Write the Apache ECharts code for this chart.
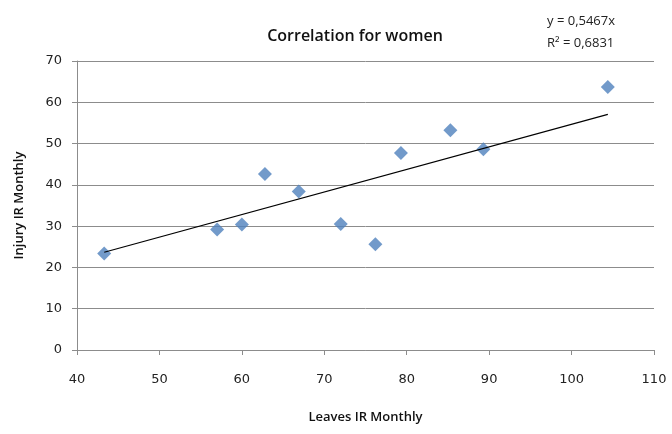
<!DOCTYPE html>
<html>
<head>
<meta charset="utf-8">
<script src="https://cdn.jsdelivr.net/npm/echarts@6/dist/echarts.min.js"></script>
<style>html,body{margin:0;padding:0;background:#fff}#c{width:672px;height:434px}</style>
</head>
<body>
<div id="c"></div>
<script>
var leavesIR = [43.3, 57.0, 60.0, 62.8, 66.9, 72.0, 76.2, 79.3, 85.3, 89.3, 104.4];
var injuryIR = [23.4, 29.2, 30.4, 42.6, 38.4, 30.5, 25.6, 47.7, 53.2, 48.6, 63.7];
var slope = 0.5467;
var trendX = [43.3, 104.4];
var xTicks = [40, 50, 60, 70, 80, 90, 100, 110];
var yTicks = [0, 10, 20, 30, 40, 50, 60, 70];

var points = leavesIR.map(function (x, i) { return [x, injuryIR[i]]; });
var trend = trendX.map(function (x) { return [x, slope * x]; });

var chart = echarts.init(document.getElementById('c'));
var axisGray = '#8c8c8c';
chart.setOption({
  animation: false,
  backgroundColor: '#fff',
  title: [
    { text: 'Correlation for women', left: 350, top: 23, textAlign: 'center',
      textStyle: { fontFamily: 'Open Sans', fontSize: 16, fontWeight: 600, color: '#111' } },
    { text: 'y = 0,5467x\nR² = 0,6831', left: 542, top: 5,
      textStyle: { fontFamily: 'Open Sans', fontSize: 13, fontWeight: 'normal', color: '#222', lineHeight: 22 } }
  ],
  grid: { left: 77, right: 18, top: 61, bottom: 84 },
  xAxis: {
    type: 'value', min: 40, max: 110, interval: 10,
    name: 'Leaves IR Monthly', nameLocation: 'middle', nameGap: 61,
    nameTextStyle: { fontFamily: 'Open Sans', fontSize: 13, fontWeight: 600, color: '#111' },
    axisLine: { show: true, lineStyle: { color: axisGray } },
    axisTick: { show: true, length: 5, inside: false, lineStyle: { color: axisGray } },
    axisLabel: { margin: 23, fontFamily: 'DejaVu Sans', fontSize: 13, color: '#222',
      formatter: function (v) { return xTicks.indexOf(v) >= 0 ? String(v) : ''; } },
    splitLine: { show: false }
  },
  yAxis: {
    type: 'value', min: 0, max: 70, interval: 10,
    name: 'Injury IR Monthly', nameLocation: 'middle', nameGap: 51, nameRotate: 90,
    nameTextStyle: { fontFamily: 'Open Sans', fontSize: 13, fontWeight: 600, color: '#111' },
    axisLine: { show: true, lineStyle: { color: axisGray } },
    axisTick: { show: true, length: 5, lineStyle: { color: axisGray } },
    axisLabel: { margin: 15, fontFamily: 'DejaVu Sans', fontSize: 13, color: '#222',
      formatter: function (v) { return yTicks.indexOf(v) >= 0 ? String(v) : ''; } },
    splitLine: { show: true, lineStyle: { color: '#8c8c8c', width: 1 } }
  },
  series: [
    { type: 'scatter', data: points, symbol: 'diamond', symbolSize: 14,
      itemStyle: { color: '#4F81BD' }, z: 3 },
    { type: 'line', data: trend, symbol: 'none', lineStyle: { color: '#000', width: 1.2 }, z: 4 }
  ]
});
</script>
</body>
</html>
